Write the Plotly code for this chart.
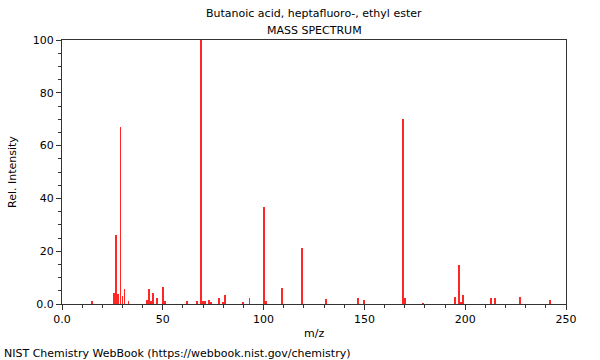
import plotly.graph_objects as go

mz = [15, 26, 27, 28, 29, 30, 31, 33, 42, 43, 44, 45, 47, 50, 51, 62, 67, 69, 70, 71, 73, 74,
      78, 80, 81, 90, 93, 100, 101, 109, 119, 131, 147, 150, 169, 170, 179, 195, 197, 198, 199,
      213, 215, 227, 242]
intensity = [1.3, 4.3, 26.0, 3.9, 67.0, 3.2, 5.8, 1.0, 1.6, 5.5, 1.1, 4.1, 2.2, 6.4, 1.3, 1.0, 1.0,
             100.0, 1.3, 1.0, 1.5, 0.5, 2.1, 0.6, 3.5, 0.5, 2.1, 36.7, 1.0, 5.9, 21.4, 2.0, 2.3, 1.6,
             69.9, 2.2, 0.3, 2.6, 14.8, 0.5, 3.5, 2.3, 2.1, 2.6, 1.6]

x_tickvals = [0, 50, 100, 150, 200, 250]
x_ticktext = ["0.0", "50", "100", "150", "200", "250"]
y_tickvals = [0, 20, 40, 60, 80, 100]
y_ticktext = ["0.0", "20", "40", "60", "80", "100"]

title_line1 = "Butanoic acid, heptafluoro-, ethyl ester"
title_line2 = "MASS SPECTRUM"
x_title = "m/z"
y_title = "Rel. Intensity"
footer = "NIST Chemistry WebBook (https://webbook.nist.gov/chemistry)"

FONT = "DejaVu Sans"

fig = go.Figure()
fig.add_trace(go.Bar(x=mz, y=intensity, width=0.45,
                     marker=dict(color="#ff0000", opacity=0.85, line=dict(width=0)),
                     hoverinfo="x+y"))

axis_common = dict(
    showgrid=False, zeroline=False, showline=True, linecolor="#333333", linewidth=1,
    mirror=True, ticks="outside", ticklen=5, tickcolor="#333333", tickwidth=1,
    tickfont=dict(family=FONT, size=11, color="#000000"),
)

fig.update_layout(
    width=600, height=360,
    margin=dict(l=62, r=34, t=40, b=56),
    paper_bgcolor="white", plot_bgcolor="white",
    showlegend=False, bargap=0,
    font=dict(family=FONT, size=11, color="#000000"),
    xaxis=dict(range=[0, 250], tickmode="array", tickvals=x_tickvals, ticktext=x_ticktext,
               minor=dict(dtick=10, tick0=0, ticks="outside", ticklen=3, tickcolor="#333333"),
               **axis_common),
    yaxis=dict(range=[0, 100], tickmode="array", tickvals=y_tickvals, ticktext=y_ticktext,
               minor=dict(dtick=5, tick0=0, ticks="outside", ticklen=3, tickcolor="#333333"),
               **axis_common),
    annotations=[
        dict(text=title_line1, xref="paper", yref="paper", x=0.5, y=1, yanchor="middle",
             yshift=27, showarrow=False, font=dict(family=FONT, size=11)),
        dict(text=title_line2, xref="paper", yref="paper", x=0.5, y=1, yanchor="middle",
             yshift=10, showarrow=False, font=dict(family=FONT, size=11)),
        dict(text=x_title, xref="paper", yref="paper", x=0.5, y=0, yanchor="middle",
             yshift=-29, showarrow=False, font=dict(family=FONT, size=11)),
        dict(text=y_title, xref="paper", yref="paper", x=0, y=0.5, xanchor="center",
             yanchor="middle", xshift=-50, textangle=-90, showarrow=False,
             font=dict(family=FONT, size=11)),
        dict(text=footer, xref="paper", yref="paper", x=0, y=0, xanchor="left",
             yanchor="middle", xshift=-60, yshift=-49, showarrow=False,
             font=dict(family=FONT, size=11)),
    ],
)

# Remove the browser's default 8px body margin so the 600x360 figure fills the window.
fig.write_html("out.html", config={"displayModeBar": False},
               post_script="document.body.style.margin='0';")
